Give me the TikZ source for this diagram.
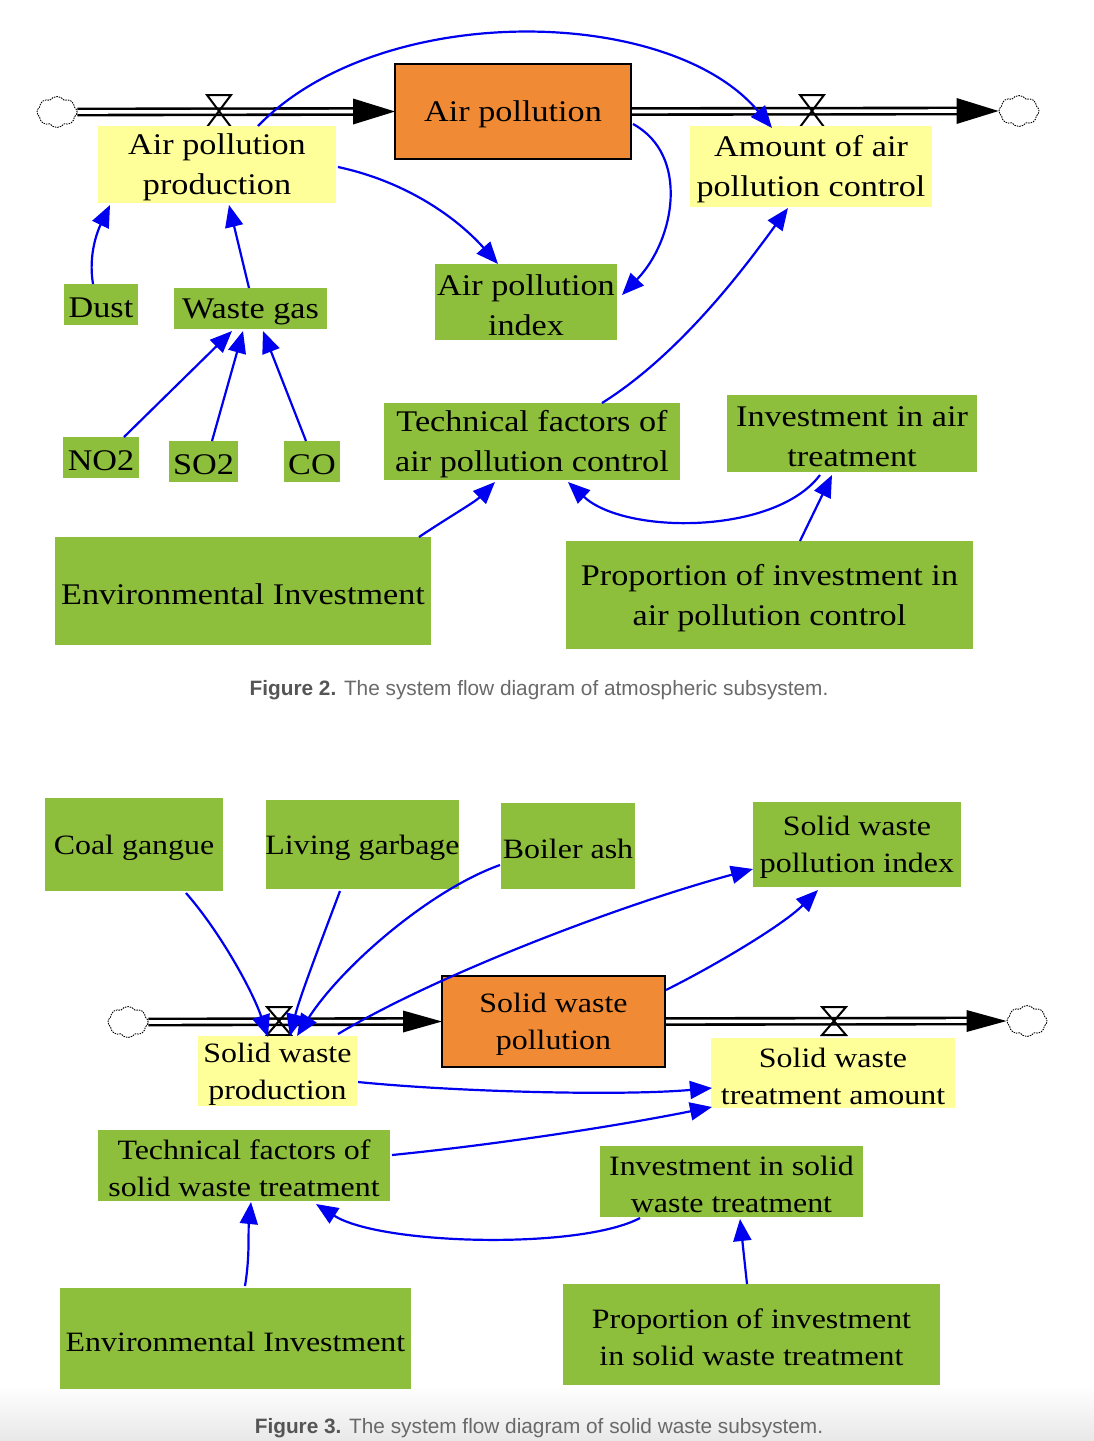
\documentclass[tikz,border=0pt]{standalone}
\usepackage{fontspec}
\setmainfont{Liberation Serif}[FakeStretch=1.14]
\newfontfamily\capfont{Liberation Sans}
\usetikzlibrary{arrows.meta,shapes.symbols,calc}
\pgfdeclarelayer{bg}
\pgfdeclarelayer{canvas}
\pgfsetlayers{canvas,bg,main}
\definecolor{grn}{RGB}{141,190,60}
\definecolor{ylw}{RGB}{255,255,153}
\definecolor{org}{RGB}{240,138,53}
\definecolor{blu}{RGB}{0,0,240}
\definecolor{capgray}{RGB}{105,105,105}
\definecolor{capdark}{RGB}{85,85,85}
\newcommand\mkbox[7]{\node[#1, minimum width={(#5)-(#3)}, minimum height={(#6)-(#4)}] (#2) at ({((#3)+(#5))/2},{((#4)+(#6))/2}) {};
 \node[#1, boxtext] (#2-t) at ([yshift=-3pt]#2.center) {#7};}
\newcommand\valve[3]{\draw[valvestyle] ({#1-12},{#2-#3}) -- ({#1+12},{#2-#3}) -- ({#1-12},{#2+#3}) -- ({#1+12},{#2+#3}) -- cycle;}
\begin{document}
\begin{tikzpicture}[x=1pt,y=-1pt,
 box/.style={rectangle, inner sep=0pt, outer sep=0pt, align=center, font=\fontsize{30}{40}\selectfont},
 boxtext/.style={fill=none, draw=none, minimum width=0pt, minimum height=0pt},
 boxb/.style={font=\fontsize{28}{37}\selectfont},
 gbox/.style={box, fill=grn},
 ybox/.style={box, fill=ylw},
 obox/.style={box, fill=org, draw=black, line width=2pt},
 lnk/.style={draw=blu, line width=2.2pt, -{Triangle[length=22pt,width=18pt]}},
 flowline/.style={draw=black, line width=2.6pt, double=white, double distance=3.6pt},
 valvestyle/.style={draw=black, line width=2pt, line join=miter},
 cloudy/.style={cloud, cloud puffs=8, cloud puff arc=110, draw=black, dash pattern=on 1.5pt off 1pt, line width=0.9pt, minimum width=40pt, minimum height=31pt, inner sep=0pt, aspect=1.3},
 captext/.style={font=\capfont\fontsize{20.8}{24}\selectfont, text=capgray, inner sep=0pt},
]
\useasboundingbox (0,0) rectangle (1094,1441);
\begin{pgfonlayer}{canvas}
\fill[white] (0,0) rectangle (1094,1441);
\shade[top color=white, bottom color=black!9] (0,1385) rectangle (1094,1441);
\end{pgfonlayer}
% ---------- Figure 2 nodes ----------
\mkbox{obox}{ap}{395}{64}{631}{159}{Air pollution}
\mkbox{ybox}{prod}{98}{126}{336}{203}{Air pollution\\production}
\mkbox{ybox}{ctrl}{690}{126}{932}{207}{Amount of air\\pollution control}
\mkbox{gbox}{dust}{64}{284}{138}{325}{Dust}
\mkbox{gbox}{wgas}{174}{288}{327}{329}{Waste gas}
\mkbox{gbox}{idx}{435}{264}{617}{340}{Air pollution\\index}
\mkbox{gbox}{no2}{63}{437}{139}{478}{NO2}
\mkbox{gbox}{so2}{169}{441}{238}{482}{SO2}
\mkbox{gbox}{co}{284}{441}{340}{482}{CO}
\mkbox{gbox}{tech}{384}{403}{680}{480}{Technical factors of\\air pollution control}
\mkbox{gbox}{inv}{727}{395}{977}{472}{Investment in air\\treatment}
\mkbox{gbox}{env}{55}{537}{431}{645}{Environmental Investment}
\mkbox{gbox}{prop}{566}{541}{973}{649}{Proportion of investment in\\air pollution control}
\node[cloudy] (cl1) at (57,112) {};
\node[cloudy] (cl2) at (1019,111) {};
\node[captext] (cap2) at (539,690) {\textcolor{capdark}{\textbf{Figure 2.}} The system flow diagram of atmospheric subsystem.};
% ---------- Figure 3 nodes ----------
\mkbox{gbox,boxb}{coal}{45}{798}{223}{891}{Coal gangue}
\mkbox{gbox,boxb}{liv}{266}{800}{459}{889}{Living garbage}
\mkbox{gbox,boxb}{boil}{501}{803}{635}{889}{Boiler ash}
\mkbox{gbox,boxb}{spi}{753}{802}{961}{887}{Solid waste\\pollution index}
\mkbox{obox,boxb}{swp}{442}{976}{665}{1067}{Solid waste\\pollution}
\mkbox{ybox,boxb}{prodb}{198}{1036}{357}{1106}{Solid waste\\production}
\mkbox{ybox,boxb}{treat}{711}{1038}{955}{1108}{Solid waste\\treatment amount}
\mkbox{gbox,boxb}{techb}{98}{1130}{390}{1201}{Technical factors of\\solid waste treatment}
\mkbox{gbox,boxb}{invb}{600}{1146}{863}{1217}{Investment in solid\\waste treatment}
\mkbox{gbox,boxb}{envb}{60}{1288}{411}{1389}{Environmental Investment}
\mkbox{gbox,boxb}{propb}{563}{1284}{940}{1385}{Proportion of investment\\in solid waste treatment}
\node[cloudy] (cl3) at (128,1022) {};
\node[cloudy] (cl4) at (1027,1021) {};
\node[captext] (cap3) at (539,1428) {\textcolor{capdark}{\textbf{Figure 3.}} The system flow diagram of solid waste subsystem.};
% ---------- background: flows, valves ----------
\begin{pgfonlayer}{bg}
% fig 2 inflow
\draw[flowline] (cl1.east) -- ([xshift=-41pt]ap.west);
\fill[black] ([xshift=-42pt,yshift=13pt]ap.west) -- (ap.west) -- ([xshift=-42pt,yshift=-13pt]ap.west) -- cycle;
\valve{219}{111}{16}
% fig 2 outflow
\draw[flowline] ([xshift=1pt]ap.east) -- ([xshift=-41pt]cl2.west);
\fill[black] ([xshift=-42pt,yshift=13pt]cl2.west) -- (cl2.west) -- ([xshift=-42pt,yshift=-13pt]cl2.west) -- cycle;
\valve{812}{111}{16}
% fig 3 inflow
\draw[flowline] (cl3.east) -- ([xshift=-38pt]swp.west);
\fill[black] ([xshift=-39pt,yshift=11pt]swp.west) -- (swp.west) -- ([xshift=-39pt,yshift=-11pt]swp.west) -- cycle;
\valve{279}{1021}{14}
% fig 3 outflow
\draw[flowline] ([xshift=1pt]swp.east) -- ([xshift=-39pt]cl4.west);
\fill[black] ([xshift=-40pt,yshift=11pt]cl4.west) -- (cl4.west) -- ([xshift=-40pt,yshift=-11pt]cl4.west) -- cycle;
\valve{834}{1021}{14}
\end{pgfonlayer}
% ---------- Figure 2 links ----------
\draw[lnk] ($(prod.north west)+(160,0)$) .. controls +(122,-126) and +(-102,-123) .. ($(ctrl.north west)+(82,2)$);
\draw[lnk] ($(ap.north west)+(238,60)$) .. controls +(57,31) and +(53,-55) .. ($(idx.north west)+(187,31)$);
\draw[lnk] ($(prod.north west)+(240,41)$) .. controls +(70,15) and +(-40,-45) .. ($(idx.north west)+(63,0)$);
\draw[lnk] ($(dust.north west)+(29,0)$) .. controls +(-5,-30) and +(-12,25) .. ($(prod.north west)+(12,79)$);
\draw[lnk] ($(wgas.north west)+(75,0)$) -- ($(prod.north west)+(131,79)$);
\draw[lnk] ($(no2.north west)+(61,0)$) -- ($(wgas.north west)+(58,43)$);
\draw[lnk] ($(so2.north west)+(43,0)$) -- ($(wgas.north west)+(69,43)$);
\draw[lnk] ($(co.north west)+(22,0)$) -- ($(wgas.north west)+(89,43)$);
\draw[lnk] ($(tech.north west)+(218,0)$) .. controls +(80,-50) and +(-40,55) .. ($(ctrl.north west)+(98,82)$);
\draw[lnk] ($(env.north west)+(364,0)$) .. controls +(30,-20) and +(-20,20) .. ($(tech.north west)+(111,79)$);
\draw[lnk] ($(inv.north west)+(93,80)$) .. controls +(-45,60) and +(57,53) .. ($(tech.north west)+(184,79)$);
\draw[lnk] ($(prop.north west)+(234,0)$) -- ($(inv.north west)+(105,80)$);
% ---------- Figure 3 links ----------
\draw[lnk] ($(coal.north west)+(141,95)$) .. controls +(35,40) and +(-15,-45) .. ($(prodb.north west)+(70,1)$);
\draw[lnk] ($(liv.north west)+(74,91)$) .. controls +(-15,40) and +(10,-40) .. ($(prodb.north west)+(92,0)$);
\draw[lnk] ($(boil.north west)+(-1,62)$) .. controls +(-70,25) and +(45,-70) .. ($(prodb.north west)+(99,0)$);
\draw[lnk] ($(prodb.north west)+(140,-2)$) .. controls +(100,-60) and +(-130,35) .. ($(spi.north west)+(0,67)$);
\draw[lnk] ($(swp.north west)+(224,14)$) .. controls +(50,-25) and +(-35,35) .. ($(spi.north west)+(65,88)$);
\draw[lnk] ($(prodb.north west)+(160,46)$) .. controls +(100,10) and +(-90,8) .. ($(treat.north west)+(1,50)$);
\draw[lnk] ($(techb.north west)+(294,25)$) .. controls +(100,-10) and +(-100,20) .. ($(treat.north west)+(1,69)$);
\draw[lnk] ($(invb.north west)+(40,72)$) .. controls +(-60,32) and +(64,41) .. ($(techb.north west)+(218,74)$);
\draw[lnk] ($(envb.north west)+(185,-2)$) .. controls +(5,-30) and +(-3,30) .. ($(techb.north west)+(153,72)$);
\draw[lnk] ($(propb.north west)+(184,0)$) -- ($(invb.north west)+(140,73)$);
\end{tikzpicture}
\end{document}
